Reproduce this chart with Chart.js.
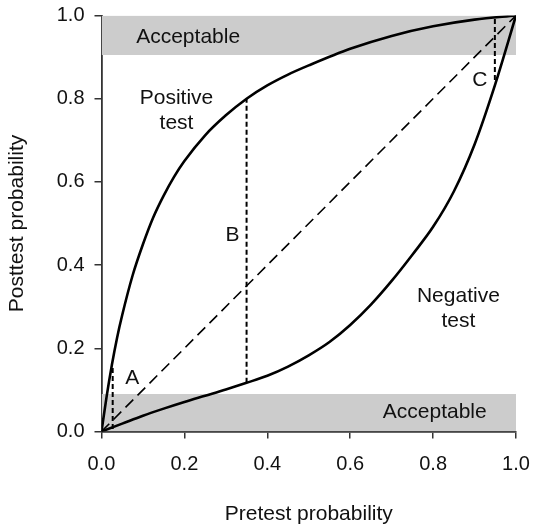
<!DOCTYPE html>
<html>
<head>
<meta charset="utf-8">
<script src="https://cdn.jsdelivr.net/npm/chart.js@4"></script>
<style>
  html, body { margin: 0; padding: 0; background: #fff; }
  #wrap { width: 533px; height: 527px; }
</style>
</head>
<body>
<div id="wrap"><canvas id="c" width="533" height="527"></canvas></div>
<script>
// Pretest probability (x) and posttest probability after a positive test
const pretestPos = [0, 0.0125, 0.025, 0.0375, 0.05, 0.075, 0.1, 0.125, 0.15, 0.175, 0.2, 0.25, 0.3, 0.35, 0.4, 0.45, 0.5, 0.6, 0.7, 0.8, 0.9, 1.0];
const postPositive = [0, 0.085, 0.16, 0.225, 0.28, 0.375, 0.45, 0.515, 0.567, 0.612, 0.65, 0.712, 0.76, 0.80, 0.832, 0.858, 0.88, 0.92, 0.951, 0.974, 0.99, 1.0];

// Pretest probability (x) and posttest probability after a negative test
const pretestNeg = [0, 0.05, 0.1, 0.15, 0.2, 0.25, 0.3, 0.35, 0.4, 0.45, 0.5, 0.55, 0.6, 0.65, 0.7, 0.75, 0.8, 0.85, 0.9, 0.95, 1.0];
const postNegative = [0, 0.019, 0.038, 0.055, 0.071, 0.086, 0.101, 0.117, 0.134, 0.156, 0.183, 0.215, 0.256, 0.305, 0.362, 0.425, 0.492, 0.577, 0.69, 0.835, 1.0];

// No-information line (posttest = pretest)
const identityX = [0, 1];
const identityY = [0, 1];

// Acceptable certainty thresholds
const acceptHigh = 0.905;
const acceptLow = 0.09;

// Marked pretest probabilities A, B, C and the span between the two curves
const markerNames = ['A', 'B', 'C'];
const markerX = [0.027, 0.35, 0.949];
const markerLow = [0.006, 0.117, 0.845];
const markerHigh = [0.16, 0.80, 0.992];

// Axis ticks
const tickValues = [0, 0.2, 0.4, 0.6, 0.8, 1.0];

const FONT = '"Liberation Sans", Arial, Helvetica, sans-serif';
const INK = '#111';

const pts = (xs, ys) => xs.map((x, i) => ({ x: x, y: ys[i] }));

const datasets = [
  {
    label: 'Positive test',
    data: pts(pretestPos, postPositive),
    borderColor: '#000', borderWidth: 2.6,
    cubicInterpolationMode: 'monotone', pointRadius: 0, showLine: true, order: 1
  },
  {
    label: 'Negative test',
    data: pts(pretestNeg, postNegative),
    borderColor: '#000', borderWidth: 2.6,
    cubicInterpolationMode: 'monotone', pointRadius: 0, showLine: true, order: 1
  },
  {
    label: 'No change',
    data: pts(identityX, identityY),
    borderColor: '#000', borderWidth: 1.6, borderDash: [11, 6],
    pointRadius: 0, showLine: true, order: 2
  },
  {
    label: 'Acceptable (high)',
    data: pts([0, 1], [acceptHigh, acceptHigh]),
    borderWidth: 0, backgroundColor: '#cccccc', borderColor: 'rgba(0,0,0,0)',
    fill: 'end', pointRadius: 0, showLine: true, order: 10
  },
  {
    label: 'Acceptable (low)',
    data: pts([0, 1], [acceptLow, acceptLow]),
    borderWidth: 0, backgroundColor: '#cccccc', borderColor: 'rgba(0,0,0,0)',
    fill: 'start', pointRadius: 0, showLine: true, order: 10
  }
];

markerNames.forEach((name, i) => {
  datasets.push({
    label: 'Marker ' + name,
    data: pts([markerX[i], markerX[i]], [markerLow[i], markerHigh[i]]),
    borderColor: '#000', borderWidth: 2, borderDash: [5, 3],
    pointRadius: 0, showLine: true, order: 3
  });
});

// Text placed in data coordinates
const textLabels = [
  { text: ['Acceptable'], x: 0.209, y: 0.948 },
  { text: ['Acceptable'], x: 0.804, y: 0.046 },
  { text: ['Positive', 'test'], x: 0.181, y: 0.77 },
  { text: ['Negative', 'test'], x: 0.861, y: 0.294 },
  { text: ['A'], x: 0.074, y: 0.128 },
  { text: ['B'], x: 0.316, y: 0.472 },
  { text: ['C'], x: 0.913, y: 0.845 }
];

const textPlugin = {
  id: 'plotText',
  afterDatasetsDraw(chart) {
    const { ctx, scales } = chart;
    ctx.save();
    ctx.fillStyle = INK;
    ctx.font = '21px ' + FONT;
    ctx.textAlign = 'center';
    ctx.textBaseline = 'middle';
    const lh = 25;
    textLabels.forEach(t => {
      const px = scales.x.getPixelForValue(t.x);
      const py = scales.y.getPixelForValue(t.y);
      const y0 = py - (t.text.length - 1) * lh / 2;
      t.text.forEach((line, k) => ctx.fillText(line, px, y0 + k * lh));
    });
    ctx.restore();
  }
};

const axisCommon = {
  type: 'linear', min: 0, max: 1,
  afterBuildTicks(axis) { axis.ticks = tickValues.map(v => ({ value: v })); },
  grid: { display: true, drawOnChartArea: false, drawTicks: true, tickLength: 7, color: '#333', lineWidth: 1.5 },
  border: { display: true, color: '#333', width: 1.8 },
  ticks: {
    color: INK, font: { family: FONT, size: 20 },
    callback: v => Number(v).toFixed(1)
  }
};

new Chart(document.getElementById('c'), {
  type: 'scatter',
  data: { datasets: datasets },
  options: {
    responsive: false, animation: false,
    layout: { padding: { left: 0, right: 17, top: 15.5, bottom: 0 } },
    plugins: { legend: { display: false }, tooltip: { enabled: false } },
    scales: {
      x: Object.assign({}, axisCommon, {
        position: 'bottom',
        ticks: Object.assign({}, axisCommon.ticks, { padding: 14, maxRotation: 0 }),
        title: { display: true, text: 'Pretest probability', color: INK, font: { family: FONT, size: 21 }, padding: { top: 0, bottom: 0 } },
        afterFit(axis) { axis.height = 95.5; axis.paddingLeft = 0; axis.paddingRight = 0; }
      }),
      y: Object.assign({}, axisCommon, {
        position: 'left',
        ticks: Object.assign({}, axisCommon.ticks, { padding: 10 }),
        title: { display: true, text: 'Posttest probability', color: INK, font: { family: FONT, size: 21 }, padding: { top: 5, bottom: 0 } },
        afterFit(axis) { axis.width = 101.5; axis.paddingTop = 0; axis.paddingBottom = 0; }
      })
    }
  },
  plugins: [textPlugin]
});
</script>
</body>
</html>
